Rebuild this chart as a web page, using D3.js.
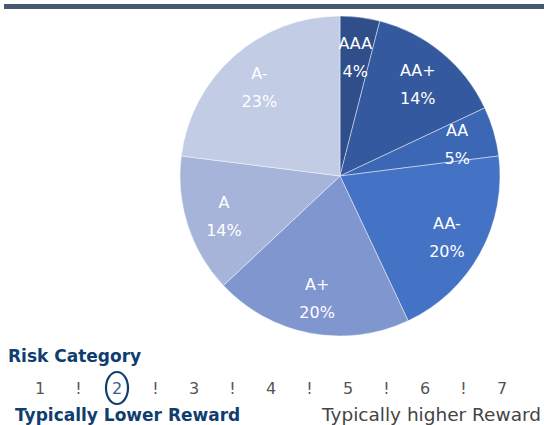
<!DOCTYPE html>
<html lang="en">
<head>
<meta charset="UTF-8">
<title>Risk Category Pie</title>
<script src="https://d3js.org/d3.v7.min.js"></script>
<style>
  body { margin: 0; background: #fff; }
  svg { display: block; font-family: "DejaVu Sans", "Open Sans", sans-serif; }
</style>
</head>
<body>
<svg width="544" height="425"></svg>
<script>
  // chart data
  const ratings = ["AAA", "AA+", "AA", "AA-", "A+", "A", "A-"];
  const shares = [4, 14, 5, 20, 20, 14, 23];
  const sliceColors = ["#2f4e8a", "#34599e", "#3b67b5", "#4472c4", "#7f96cf", "#a6b4da", "#c2cce5"];

  // risk scale below the pie
  const scaleLabels = ["1", "!", "2", "!", "3", "!", "4", "!", "5", "!", "6", "!", "7"];
  const selectedRisk = "2";

  const svg = d3.select("svg");
  const cx = 340, cy = 176, radius = 160;

  // top rule
  svg.append("rect")
    .attr("x", 4).attr("y", 4)
    .attr("width", 540).attr("height", 5)
    .attr("fill", "#485871");

  const pie = d3.pie().sort(null).value(d => d.v);
  const arcs = pie(ratings.map((r, i) => ({ r, v: shares[i], c: sliceColors[i] })));

  const arc = d3.arc().innerRadius(0).outerRadius(radius);
  const labelArc = d3.arc().innerRadius(122).outerRadius(122);

  const g = svg.append("g").attr("transform", `translate(${cx},${cy})`);

  g.selectAll("path")
    .data(arcs)
    .enter().append("path")
    .attr("d", arc)
    .attr("fill", d => d.data.c)
    .attr("stroke", "rgba(255,255,255,0.55)")
    .attr("stroke-width", 0.8);

  const lbl = g.selectAll("text.lbl")
    .data(arcs)
    .enter().append("text")
    .attr("class", "lbl")
    .attr("transform", d => `translate(${labelArc.centroid(d)})`)
    .attr("text-anchor", "middle")
    .attr("fill", "#fff")
    .style("font-size", "16px");

  lbl.append("tspan").attr("x", 0).attr("dy", "-0.35em").text(d => d.data.r);
  lbl.append("tspan").attr("x", 0).attr("dy", "1.75em").text(d => d.data.v + "%");

  // risk category section
  svg.append("text")
    .attr("x", 8).attr("y", 362)
    .attr("fill", "#103d6f")
    .style("font-size", "17px").style("font-weight", "bold")
    .text("Risk Category");

  const xRisk = d3.scalePoint().domain(d3.range(scaleLabels.length)).range([40, 502]);

  svg.selectAll("text.risk")
    .data(scaleLabels)
    .enter().append("text")
    .attr("class", "risk")
    .attr("x", (d, i) => xRisk(i))
    .attr("y", 394)
    .attr("text-anchor", "middle")
    .attr("fill", d => d === selectedRisk ? "#355a8a" : "#555")
    .style("font-size", "16px")
    .text(d => d);

  const selIdx = scaleLabels.indexOf(selectedRisk);
  svg.append("ellipse")
    .attr("cx", xRisk(selIdx)).attr("cy", 388)
    .attr("rx", 11).attr("ry", 16)
    .attr("fill", "none")
    .attr("stroke", "#103d6f")
    .attr("stroke-width", 2.2);

  svg.append("text")
    .attr("x", 15).attr("y", 421)
    .attr("fill", "#103d6f")
    .style("font-size", "17px").style("font-weight", "bold")
    .text("Typically Lower Reward");

  svg.append("text")
    .attr("x", 541).attr("y", 421)
    .attr("text-anchor", "end")
    .attr("fill", "#444")
    .style("font-size", "18.5px")
    .text("Typically higher Reward");
</script>
</body>
</html>
